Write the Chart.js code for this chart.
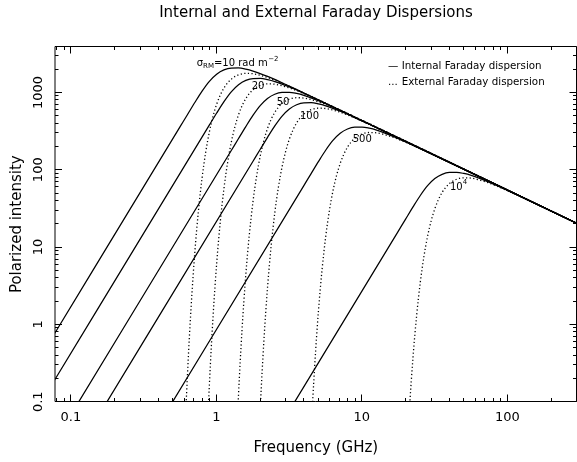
<!DOCTYPE html>
<html><head><meta charset="utf-8">
<style>html,body{margin:0;padding:0;background:#fff;}#wrap{width:577px;height:462px;position:relative;}canvas{display:block;}</style>
<script src="https://cdn.jsdelivr.net/npm/chart.js@4"></script>
</head><body><div id="wrap"><canvas id="c" width="577" height="462"></canvas></div>
<script>
// ---- Data (frequency in GHz, polarized intensity) ----
const xTickValues = [0.1, 1, 10, 100];
const xTickLabels = ['0.1', '1', '10', '100'];
const yTickValues = [0.1, 1, 10, 100, 1000];
const yTickLabels = ['0.1', '1', '10', '100', '1000'];

// Internal Faraday dispersion (solid)
const freqInt10 = [0.07, 0.5651, 0.6340, 0.7113, 0.7981, 0.8955, 1.0048, 1.1274, 1.2650, 1.4194, 1.5925, 1.7869, 2.2497, 2.8322, 3.5656, 300];
const polInt10  = [0.560, 362.9, 518.6, 739.7, 1039, 1391, 1719, 1953, 2065, 2072, 2002, 1888, 1608, 1332, 1091, 20.29];
const freqInt20 = [0.07, 0.7992, 0.8966, 1.0059, 1.1287, 1.2664, 1.4210, 1.5944, 1.7890, 2.0073, 2.2521, 2.5271, 3.1815, 4.0053, 5.0425, 300];
const polInt20  = [0.140, 265.6, 379.6, 541.5, 760.5, 1018, 1258, 1430, 1512, 1517, 1465, 1382, 1177, 975.0, 798.6, 20.29];
const freqInt50 = [0.1, 1.2636, 1.4177, 1.5905, 1.7846, 2.0024, 2.2468, 2.5209, 2.8286, 3.1739, 3.5609, 3.9956, 5.0305, 6.3330, 7.9729, 300];
const polInt50  = [0.0677, 175.9, 251.4, 358.5, 503.6, 674.2, 833.2, 946.6, 1000.9, 1004.3, 970.4, 915.1, 779.4, 645.6, 528.8, 20.29];
const freqInt100 = [0.15, 1.7870, 2.0049, 2.2493, 2.5238, 2.8318, 3.1775, 3.5651, 4.0003, 4.4885, 5.0359, 5.6507, 7.1142, 8.9563, 11.275, 300];
const polInt100  = [0.0595, 128.8, 184.0, 262.5, 368.6, 493.5, 609.9, 693.0, 732.7, 735.2, 710.3, 669.9, 570.5, 472.6, 387.1, 20.29];
const freqInt500 = [0.4, 3.9959, 4.4831, 5.0297, 5.6434, 6.3321, 7.1050, 7.9719, 8.9449, 10.037, 11.261, 12.635, 15.908, 20.027, 25.213, 300];
const polInt500  = [0.0498, 62.41, 89.18, 127.2, 178.7, 239.2, 295.6, 335.9, 355.1, 356.3, 344.3, 324.7, 276.5, 229.1, 187.6, 20.29];
const freqInt1e4 = [3, 17.870, 20.049, 22.493, 25.238, 28.318, 31.775, 35.651, 40.003, 44.885, 50.359, 56.507, 71.142, 89.563, 112.75, 300];
const polInt1e4  = [0.0642, 16.21, 23.16, 33.04, 46.41, 62.13, 76.78, 87.24, 92.24, 92.55, 89.43, 84.33, 71.83, 59.50, 48.73, 20.29];

// External Faraday dispersion (dotted)
const freqExt10 = [0.5651, 0.5984, 0.6340, 0.6716, 0.7113, 0.7536, 0.7981, 0.8455, 0.8955, 0.9486, 1.0048, 1.0644, 1.1274, 1.1942, 1.2650, 1.4194, 1.5925, 1.7869, 2.2497, 2.8322, 3.5656, 300];
const polExt10  = [0.000753, 0.01862, 0.2355, 1.748, 8.506, 29.56, 78.70, 169.5, 308.4, 490.9, 702.3, 923.9, 1137, 1326, 1482, 1687, 1761, 1742, 1558, 1315, 1085, 20.29];
const freqExt20 = [0.7992, 0.8463, 0.8966, 0.9498, 1.0059, 1.0657, 1.1287, 1.1957, 1.2664, 1.3415, 1.4210, 1.5053, 1.5944, 1.6889, 1.7890, 2.0073, 2.2521, 2.5271, 3.1815, 4.0053, 5.0425, 300];
const polExt20  = [0.000551, 0.01363, 0.1724, 1.280, 6.226, 21.64, 57.61, 124.1, 225.7, 359.3, 514.1, 676.3, 832.3, 970.6, 1085, 1235, 1289, 1275, 1140, 962.6, 794.2, 20.29];
const freqExt50 = [1.2636, 1.3381, 1.4177, 1.5017, 1.5905, 1.6851, 1.7846, 1.8906, 2.0024, 2.1211, 2.2468, 2.3801, 2.5209, 2.6703, 2.8286, 3.1739, 3.5609, 3.9956, 5.0305, 6.3330, 7.9729, 300];
const polExt50  = [0.000365, 0.009025, 0.1141, 0.8473, 4.123, 14.33, 38.15, 82.16, 149.5, 237.9, 340.4, 447.8, 551.1, 642.7, 718.3, 817.7, 853.6, 844.3, 755.2, 637.4, 525.9, 20.29];
const freqExt100 = [1.7870, 1.8923, 2.0049, 2.1238, 2.2493, 2.3831, 2.5238, 2.6737, 2.8318, 2.9997, 3.1775, 3.3660, 3.5651, 3.7764, 4.0003, 4.4885, 5.0359, 5.6507, 7.1142, 8.9563, 11.275, 300];
const polExt100  = [0.000267, 0.006607, 0.08356, 0.6202, 3.018, 10.49, 27.92, 60.14, 109.4, 174.2, 249.2, 327.8, 403.4, 470.5, 525.8, 598.6, 624.8, 618.1, 552.8, 466.6, 385.0, 20.29];
const freqExt500 = [3.9959, 4.2313, 4.4831, 4.7489, 5.0297, 5.3288, 5.6434, 5.9786, 6.3321, 6.7076, 7.1050, 7.5265, 7.9719, 8.4443, 8.9449, 10.037, 11.261, 12.635, 15.908, 20.027, 25.213, 300];
const polExt500  = [0.0001295, 0.003202, 0.0405, 0.3006, 1.463, 5.083, 13.53, 29.15, 53.04, 84.42, 120.8, 158.9, 195.5, 228.0, 254.9, 290.1, 302.8, 299.6, 267.9, 226.1, 186.6, 20.29];
const freqExt1e4 = [17.870, 18.923, 20.049, 21.238, 22.493, 23.831, 25.238, 26.737, 28.318, 29.997, 31.775, 33.660, 35.651, 37.764, 40.003, 44.885, 50.359, 56.507, 71.142, 89.563, 112.75, 300];
const polExt1e4  = [0.0000336, 0.0008317, 0.01052, 0.07808, 0.3799, 1.320, 3.515, 7.571, 13.78, 21.93, 31.37, 41.27, 50.79, 59.23, 66.20, 75.35, 78.66, 77.81, 69.59, 58.74, 48.46, 20.29];

// ---- Chart ----
const FONT = '"DejaVu Sans", sans-serif';
function pts(xs, ys) { return xs.map((x, i) => ({x: x, y: ys[i]})); }
const seriesList = [
  [freqInt10, polInt10, false], [freqInt20, polInt20, false], [freqInt50, polInt50, false],
  [freqInt100, polInt100, false], [freqInt500, polInt500, false], [freqInt1e4, polInt1e4, false],
  [freqExt10, polExt10, true], [freqExt20, polExt20, true], [freqExt50, polExt50, true],
  [freqExt100, polExt100, true], [freqExt500, polExt500, true], [freqExt1e4, polExt1e4, true]
];
const datasets = seriesList.map(s => ({
  data: pts(s[0], s[1]),
  borderColor: '#000',
  borderWidth: s[2] ? 1.3 : 1.25,
  borderDash: s[2] ? [1.2, 2.4] : [],
  pointRadius: 0,
  fill: false,
  cubicInterpolationMode: 'monotone'
}));

const decor = {
  id: 'decor',
  afterDraw(chart) {
    const ctx = chart.ctx, a = chart.chartArea;
    const xs = chart.scales.x, ys = chart.scales.y;
    ctx.save();
    ctx.strokeStyle = '#000';
    ctx.lineWidth = 1;
    const L = 55, R = 576.5, T = Math.floor(a.top) + 0.5, B = Math.floor(a.bottom) + 0.5;
    ctx.beginPath();
    ctx.moveTo(L, T); ctx.lineTo(R, T);
    ctx.moveTo(R, T); ctx.lineTo(R, B);
    ctx.moveTo(L, B); ctx.lineTo(R, B);
    ctx.stroke();
    ctx.beginPath();
    ctx.moveTo(L, T); ctx.lineTo(L, B);
    ctx.stroke();
    // tick marks
    ctx.beginPath();
    for (let k = -2; k <= 3; k++) {
      for (let m = 1; m <= 9; m++) {
        const v = m * Math.pow(10, k);
        const len = m === 1 ? 7 : 3.5;
        if (v >= xs.min && v <= xs.max) {
          const px = Math.floor(xs.getPixelForValue(v)) + 0.5;
          ctx.moveTo(px, B); ctx.lineTo(px, B - len);
          ctx.moveTo(px, T); ctx.lineTo(px, T + len);
        }
        if (v >= ys.min && v <= ys.max) {
          const py = Math.floor(ys.getPixelForValue(v)) + 0.5;
          ctx.moveTo(L, py); ctx.lineTo(L + len, py);
          ctx.moveTo(R, py); ctx.lineTo(R - len, py);
        }
      }
    }
    ctx.stroke();

    ctx.fillStyle = '#000';
    ctx.textBaseline = 'middle';
    // title
    ctx.font = '15px ' + FONT;
    ctx.textAlign = 'center';
    ctx.fillText('Internal and External Faraday Dispersions', 316, 13);
    // legend
    ctx.textAlign = 'left';
    ctx.font = '10.3px ' + FONT;
    ctx.fillText('\u2014', 388, 66);
    ctx.fillText('Internal Faraday dispersion', 401.7, 66);
    ctx.fillText('...', 388, 82.3);
    ctx.fillText('External Faraday dispersion', 401.7, 82.3);
    // curve labels
    let x = 196.7;
    ctx.font = '10px ' + FONT;
    ctx.fillText('\u03C3', x, 63.3); x += ctx.measureText('\u03C3').width;
    ctx.font = '7px ' + FONT;
    ctx.fillText('RM', x, 66.5); x += ctx.measureText('RM').width;
    ctx.font = '10px ' + FONT;
    ctx.fillText('=10 rad m', x, 63.3); x += ctx.measureText('=10 rad m').width + 0.5;
    ctx.font = '7px ' + FONT;
    ctx.fillText('\u22122', x, 59);
    ctx.font = '10px ' + FONT;
    ctx.fillText('20', 251.7, 86.7);
    ctx.fillText('50', 276.7, 102.7);
    ctx.fillText('100', 300, 116);
    ctx.fillText('500', 352.7, 139.3);
    ctx.fillText('10', 450, 187);
    ctx.font = '7px ' + FONT;
    ctx.fillText('4', 462.7, 182);
    ctx.restore();
  }
};

new Chart(document.getElementById('c'), {
  type: 'line',
  data: { datasets: datasets },
  options: {
    responsive: false,
    animation: false,
    events: [],
    devicePixelRatio: 1,
    layout: { padding: { top: 46.7, right: 0.3, left: 0, bottom: 0 } },
    elements: { line: { capBezierPoints: false } },
    plugins: { legend: { display: false }, tooltip: { enabled: false }, title: { display: false } },
    scales: {
      x: {
        type: 'logarithmic',
        position: 'bottom',
        min: 0.0778, max: 300,
        grid: { display: false, drawTicks: false },
        border: { display: false },
        afterBuildTicks: (s) => { s.ticks = xTickValues.map(v => ({value: v})); },
        afterFit: (s) => { s.height = 60.3; },
        ticks: {
          autoSkip: false, maxRotation: 0, minRotation: 0, padding: 8,
          color: '#000', font: { family: FONT, size: 13 },
          callback: (v, i) => xTickLabels[i]
        },
        title: { display: true, text: 'Frequency (GHz)', color: '#000',
          font: { family: FONT, size: 15 }, padding: { top: 0, bottom: 4.7 } }
      },
      y: {
        type: 'logarithmic',
        position: 'left',
        min: 0.1, max: 3900,
        grid: { display: false, drawTicks: false },
        border: { display: false },
        afterBuildTicks: (s) => { s.ticks = yTickValues.map(v => ({value: v})); },
        afterFit: (s) => { s.width = 55; },
        ticks: {
          autoSkip: false, minRotation: 90, maxRotation: 90, crossAlign: 'center', padding: 0,
          color: '#000', font: { family: FONT, size: 13 },
          callback: (v, i) => yTickLabels[i]
        },
        title: { display: true, text: 'Polarized intensity', color: '#000',
          font: { family: FONT, size: 15 }, padding: { top: 7.7, bottom: 0 } }
      }
    }
  },
  plugins: [decor]
});
</script>
</body></html>
